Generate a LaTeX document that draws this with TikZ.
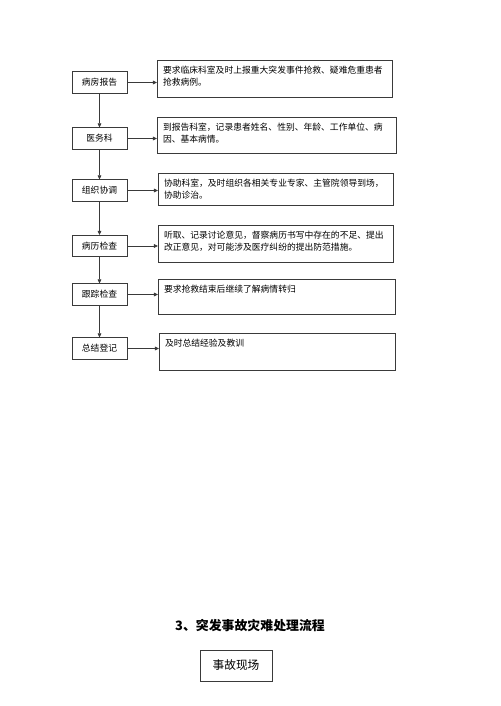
\documentclass[tikz,border=0pt]{standalone}
\usepackage{fontspec}
\setmainfont{Noto Sans CJK SC}
\usepackage{tikz}
\usetikzlibrary{arrows.meta,positioning}
\definecolor{frame}{HTML}{3A3A3A}
\tikzset{
  stage/.style={draw=frame, line width=0.6pt, minimum width=1.65cm,
    minimum height=0.64cm, inner sep=0pt, font=\fontsize{7.5}{9}\selectfont},
  remark/.style={draw=frame, line width=0.6pt, anchor=north west,
    inner xsep=0.17cm, inner ysep=0.17cm, font=\fontsize{7.5}{10.6}\selectfont},
  flow/.style={draw=frame, line width=0.6pt, -{Triangle[length=3.6pt,width=3.2pt]}}
}

\begin{document}
\begin{tikzpicture}[x=0.03cm, y=-0.03cm]
\useasboundingbox (0,0) rectangle (500,706);
% ---------- left column: the steps
\node[stage] (report)  at (99.5, 82.5) {病房报告};
\node[stage] (office)  at (99.5,138.5) {医务科};
\node[stage] (organ)   at (99.5,190.5) {组织协调};
\node[stage] (record)  at (99.5,246)   {病历检查};
\node[stage] (follow)  at (99.5,294.5) {跟踪检查};
\node[stage] (summary) at (99.5,348.5) {总结登记};

% ---------- right column: what each step does
\node[remark] (rreport) at (157,60)
  {\parbox[t][0.77cm][t]{6.72cm}{要求临床科室及时上报重大突发事件抢救、疑难危重患者\\抢救病例。}};
\node[remark] (roffice) at (157,117)
  {\parbox[t][0.74cm][t]{6.83cm}{到报告科室，记录患者姓名、性别、年龄、工作单位、病\\因、基本病情。}};
\node[remark] (rorgan) at (158,173)
  {\parbox[t][0.62cm][t]{6.71cm}{协助科室，及时组织各相关专业专家、主管院领导到场，\\协助诊治。}};
\node[remark] (rrecord) at (158,225)
  {\parbox[t][0.77cm][t]{6.71cm}{听取、记录讨论意见，督察病历书写中存在的不足、提出\\改正意见，对可能涉及医疗纠纷的提出防范措施。}};
\node[remark] (rfollow) at (158,279)
  {\parbox[t][0.71cm][t]{6.77cm}{要求抢救结束后继续了解病情转归}};
\node[remark] (rsummary) at (159,333)
  {\parbox[t][0.77cm][t]{6.74cm}{及时总结经验及教训}};

% ---------- connectors
\foreach \a/\b in {report/office, office/organ, organ/record,
                   record/follow, follow/summary}
  \draw[flow] (\a.south) -- (\b.north);
\foreach \a/\b in {report/rreport, office/roffice, organ/rorgan,
                   record/rrecord, follow/rfollow, summary/rsummary}
  \draw[flow] (\a.east) -- (\a.east -| \b.west);

% ---------- next section
\node[font=\fontsize{11}{13}\selectfont\bfseries] (title) at (250,626)
  {3、突发事故灾难处理流程};
\node[draw=frame, line width=0.6pt, minimum width=2.16cm, minimum height=0.93cm,
  inner sep=0pt, font=\fontsize{10}{12}\selectfont] (scene) at (236,665.5) {事故现场};
\end{tikzpicture}
\end{document}
